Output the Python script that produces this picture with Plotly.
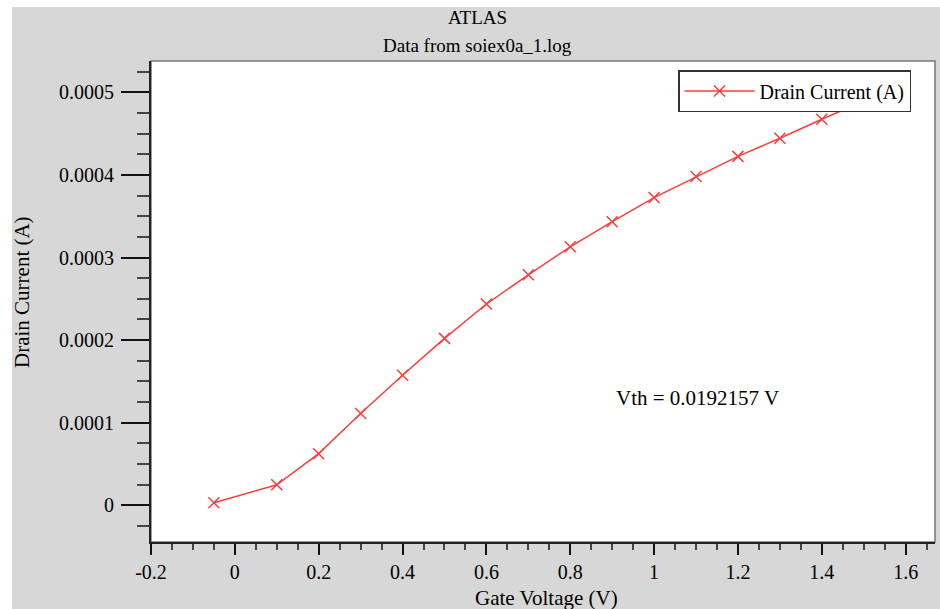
import plotly.graph_objects as go

# ---- data ----
gate_voltage = [-0.05, 0.1, 0.2, 0.3, 0.4, 0.5, 0.6, 0.7, 0.8, 0.9, 1.0, 1.1, 1.2, 1.3, 1.4, 1.5]
drain_current = [3.0e-6, 2.47e-5, 6.24e-5, 1.11e-4, 1.573e-4, 2.02e-4, 2.437e-4, 2.79e-4,
                 3.13e-4, 3.434e-4, 3.726e-4, 3.98e-4, 4.225e-4, 4.444e-4, 4.675e-4, 4.894e-4]
series_name = "Drain Current (A)"
x_tick_vals = [-0.2, 0, 0.2, 0.4, 0.6, 0.8, 1.0, 1.2, 1.4, 1.6]
x_tick_text = ["-0.2", "0", "0.2", "0.4", "0.6", "0.8", "1", "1.2", "1.4", "1.6"]
y_tick_vals = [0, 0.0001, 0.0002, 0.0003, 0.0004, 0.0005]
y_tick_text = ["0", "0.0001", "0.0002", "0.0003", "0.0004", "0.0005"]
title_lines = ["ATLAS", "Data from soiex0a_1.log"]
x_title = "Gate Voltage (V)"
y_title = "Drain Current (A)"
vth_label = "Vth = 0.0192157 V"

FONT = "Liberation Serif, Times New Roman, serif"
RED = "rgb(255,60,60)"
GRAY_BG = "#d7d7d7"

W, H = 940, 609
L, R, T, B = 151, 935, 61, 542  # plot area in pixels
pw, ph = R - L, B - T


def px(x):
    return (x - L) / pw


def py(y):
    return (B - y) / ph


fig = go.Figure()
fig.add_trace(go.Scatter(
    x=gate_voltage, y=drain_current, mode="lines+markers", name=series_name,
    line=dict(color=RED, width=1.5),
    marker=dict(symbol="x-thin", size=11, line=dict(color=RED, width=1.5)),
    showlegend=True,
))

axis_common = dict(
    showgrid=False, zeroline=False, showline=True, linecolor="#222", linewidth=2,
    ticks="outside", tickcolor="#111", tickwidth=2,
    tickfont=dict(family=FONT, size=20, color="black"),
)

fig.update_xaxes(
    **axis_common, range=[-0.2, 1.67], tickvals=x_tick_vals, ticktext=x_tick_text,
    ticklen=11, ticklabelstandoff=0,
    minor=dict(dtick=0.05, tick0=0, ticks="outside", ticklen=6, tickwidth=1.5, tickcolor="#444"),
)
fig.update_yaxes(
    **axis_common, range=[-0.0000446, 0.000538], tickvals=y_tick_vals, ticktext=y_tick_text,
    ticklen=28, ticklabelstandoff=3,
    minor=dict(dtick=0.000025, tick0=0, ticks="outside", ticklen=12, tickwidth=1.5, tickcolor="#444"),
)

shapes = [
    # white strips at top and left edges of the picture
    dict(type="rect", xref="paper", yref="paper", x0=px(0), x1=px(W), y0=py(0), y1=py(7),
         fillcolor="white", line=dict(width=0), layer="below"),
    dict(type="rect", xref="paper", yref="paper", x0=px(0), x1=px(12), y0=py(H), y1=py(0),
         fillcolor="white", line=dict(width=0), layer="below"),
    # plot frame (gray top/right)
    dict(type="rect", xref="paper", yref="paper", x0=0, x1=1, y0=0, y1=1,
         line=dict(color="#777", width=1.5), layer="below"),
]

annotations = [
    dict(text=title_lines[0], xref="paper", yref="paper", x=px(477), y=py(18),
         showarrow=False, xanchor="center", yanchor="middle",
         font=dict(family=FONT, size=19, color="black")),
    dict(text=title_lines[1], xref="paper", yref="paper", x=px(477), y=py(46),
         showarrow=False, xanchor="center", yanchor="middle",
         font=dict(family=FONT, size=19, color="black")),
    dict(text=x_title, xref="paper", yref="paper", x=px(546), y=py(598),
         showarrow=False, xanchor="center", yanchor="middle",
         font=dict(family=FONT, size=21, color="black")),
    dict(text=y_title, xref="paper", yref="paper", x=px(22), y=py(292),
         showarrow=False, xanchor="center", yanchor="middle", textangle=-90,
         font=dict(family=FONT, size=21, color="black")),
    dict(text=vth_label, xref="paper", yref="paper", x=px(697.5), y=py(398),
         showarrow=False, xanchor="center", yanchor="middle",
         font=dict(family=FONT, size=21, color="black")),
]

fig.update_layout(
    width=W, height=H,
    margin=dict(l=L, r=W - R, t=T, b=H - B, pad=0),
    paper_bgcolor=GRAY_BG, plot_bgcolor="white",
    shapes=shapes, annotations=annotations,
    legend=dict(x=px(911), y=py(70), xanchor="right", yanchor="top",
                bgcolor="white", bordercolor="#333", borderwidth=1.5,
                font=dict(family=FONT, size=20, color="black"),
                itemwidth=70),
)

fig.write_html("out.html")
